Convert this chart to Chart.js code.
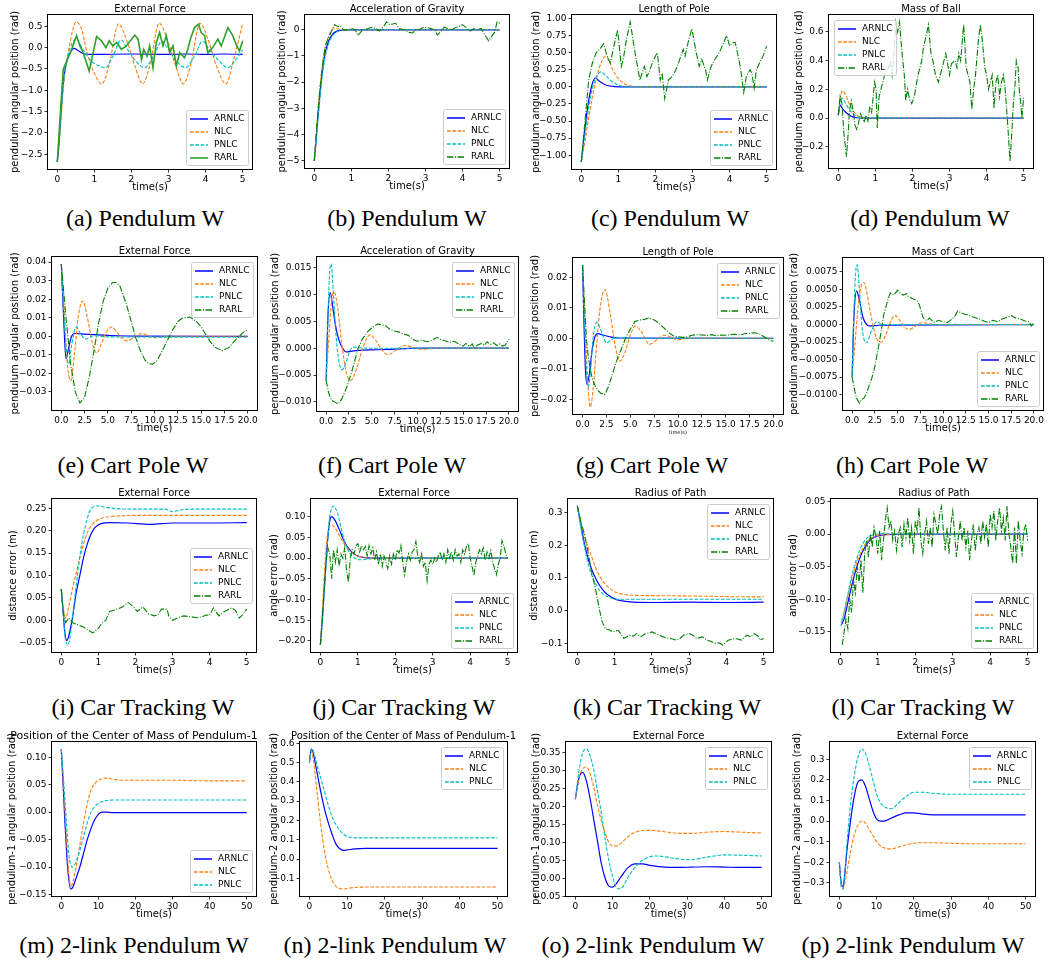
<!DOCTYPE html>
<html><head><meta charset="utf-8">
<script src="https://cdn.jsdelivr.net/npm/chart.js@4.4.1/dist/chart.umd.min.js"></script>
<style>
html,body{margin:0;padding:0;background:#fff;}
body{width:1049px;height:966px;position:relative;overflow:hidden;}
.cap{position:absolute;font-family:"Liberation Serif","DejaVu Serif",serif;font-size:24px;color:#000;white-space:nowrap;transform:translate(-50%,-50%);line-height:1;}
</style></head><body>
<script>
// ---------- tick labels ----------
const xTicks5 = [0,1,2,3,4,5];
const xTicks20 = [0,2.5,5,7.5,10,12.5,15,17.5,20];
const xTicks50 = [0,10,20,30,40,50];
const aYTicks = [-2.5,-2.0,-1.5,-1.0,-0.5,0.0,0.5];
const bYTicks = [-5,-4,-3,-2,-1,0];
const cYTicks = [-1.0,-0.75,-0.5,-0.25,0,0.25,0.5,0.75,1.0];
const dYTicks = [-0.2,0,0.2,0.4,0.6];
const eYTicks = [-0.03,-0.02,-0.01,0,0.01,0.02,0.03,0.04];
const fYTicks = [-0.01,-0.005,0,0.005,0.01,0.015];
const gYTicks = [-0.02,-0.01,0,0.01,0.02];
const hYTicks = [-0.01,-0.0075,-0.005,-0.0025,0,0.0025,0.005,0.0075];
const iYTicks = [-0.05,0,0.05,0.1,0.15,0.2,0.25];
const jYTicks = [-0.2,-0.15,-0.1,-0.05,0,0.05,0.1];
const kYTicks = [-0.1,0,0.1,0.2,0.3];
const lYTicks = [-0.15,-0.1,-0.05,0,0.05];
const mYTicks = [-0.15,-0.1,-0.05,0,0.05,0.1];
const nYTicks = [-0.1,0,0.1,0.2,0.3,0.4,0.5,0.6];
const oYTicks = [-0.05,0,0.05,0.1,0.15,0.2,0.25,0.3,0.35];
const pYTicks = [-0.3,-0.2,-0.1,0,0.1,0.2,0.3];

// ---------- (a) Pendulum: External Force ----------
const aArnlcT = [0,0.05,0.1,0.15,0.2,0.25,0.3,0.35,0.45,0.55,0.65,0.8,1.0,2.0,3.0,3.5,4.0,4.5,5.0];
const aArnlcY = [-2.68,-2.2,-1.55,-0.95,-0.55,-0.35,-0.22,-0.12,-0.02,-0.06,-0.12,-0.16,-0.16,-0.15,-0.16,-0.15,-0.16,-0.15,-0.16];
const aNlcT = [0,0.05,0.1,0.15,0.2,0.3,0.4,0.5,0.65,0.8,1.0,1.2,1.4,1.65,1.9,2.1,2.3,2.5,2.75,3.0,3.2,3.4,3.6,3.85,4.1,4.3,4.55,4.75,5.0];
const aNlcY = [-2.68,-2.3,-1.7,-1.1,-0.65,-0.1,0.35,0.6,0.45,-0.1,-0.6,-0.85,-0.4,0.55,0.1,-0.45,-0.85,-0.4,0.57,0.1,-0.45,-0.85,-0.4,0.57,0.1,-0.45,-0.85,-0.3,0.57];
const aPnlcT = [0,0.05,0.1,0.15,0.2,0.3,0.4,0.5,0.7,0.9,1.1,1.3,1.5,1.72,1.9,2.1,2.35,2.6,2.82,3.0,3.2,3.45,3.7,3.92,4.1,4.35,4.6,4.8,5.0];
const aPnlcY = [-2.68,-2.25,-1.6,-1.0,-0.6,-0.15,0.1,0.2,-0.05,-0.3,-0.42,-0.47,-0.2,0.18,-0.05,-0.3,-0.47,-0.2,0.15,-0.05,-0.3,-0.47,-0.2,0.15,-0.05,-0.3,-0.47,-0.3,-0.05];
const aRarlT = [0,0.16,0.25,0.39,0.52,0.61,0.7,0.86,1.06,1.19,1.31,1.4,1.5,1.6,1.73,1.86,1.97,2.09,2.18,2.27,2.33,2.42,2.49,2.58,2.67,2.76,2.85,2.94,3.03,3.12,3.21,3.3,3.43,3.52,3.59,3.7,3.81,3.88,3.97,4.06,4.19,4.33,4.42,4.6,4.73,4.82,4.91,5.0];
const aRarlY = [-2.68,-0.51,-0.32,-0.04,0.28,0.04,-0.12,-0.55,0.26,0.16,0.0,0.16,0.04,0.12,-0.04,0.04,0.16,0.29,0.2,-0.28,-0.04,-0.2,0.04,-0.47,0.12,0.35,0.04,0.28,-0.12,0.04,-0.43,-0.12,-0.24,-0.04,0.2,0.47,0.55,0.35,0.28,-0.12,0.0,0.2,0.04,0.47,0.28,0.08,-0.08,0.16];

// ---------- (b) Pendulum: Acceleration of Gravity ----------
const bT = [0,0.05,0.1,0.15,0.2,0.25,0.3,0.4,0.5,0.6,0.7,0.8,1.0,5.0];
const bArnlcY = [-5.02,-4.2,-3.3,-2.5,-1.8,-1.25,-0.85,-0.38,-0.16,-0.06,-0.02,0,0,0];
const bNlcY = [-5.02,-4.1,-3.1,-2.3,-1.6,-1.05,-0.65,-0.2,0.02,0.05,0.02,0,0,0];
const bPnlcY = [-5.02,-4.3,-3.45,-2.65,-1.95,-1.4,-1.0,-0.48,-0.22,-0.09,-0.03,-0.01,0,0];
const bRarlT = [0,0.05,0.1,0.15,0.2,0.25,0.3,0.4,0.5,0.55,0.6,0.65,0.7,0.8,0.9,1.0,1.1,1.18,1.3,1.45,1.58,1.7,1.76,1.88,1.95,2.03,2.12,2.19,2.3,2.42,2.55,2.65,2.75,2.83,2.95,3.05,3.15,3.25,3.32,3.42,3.5,3.6,3.7,3.8,3.9,3.99,4.08,4.2,4.3,4.4,4.5,4.6,4.7,4.78,4.86,4.93,5.0];
const bRarlY = [-5.02,-4.0,-3.1,-2.3,-1.6,-1.05,-0.6,-0.25,0.05,0.2,0.15,0.12,0.15,-0.02,0.0,0.05,0.0,-0.22,0.0,0.05,0.1,0.0,-0.05,0.15,0.3,0.2,0.22,0.25,0.05,0.0,-0.1,-0.12,0.02,0.0,0.1,0.08,0.05,0.0,-0.2,-0.05,0.1,0.05,0.0,0.08,0.12,0.2,0.1,-0.05,0.05,0.0,0.05,-0.2,-0.42,-0.25,-0.1,0.3,0.25];

// ---------- (c) Pendulum: Length of Pole ----------
const cArnlcT = [0,0.1,0.2,0.3,0.38,0.45,0.55,0.7,0.9,1.2,5];
const cArnlcY = [-1.1,-0.6,-0.2,0.05,0.13,0.1,0.06,0.02,0.005,0,0];
const cNlcT = [0,0.1,0.2,0.3,0.4,0.5,0.65,0.75,0.85,1.0,1.15,1.3,1.5,5];
const cNlcY = [-1.1,-0.8,-0.45,-0.15,0.1,0.3,0.45,0.38,0.25,0.12,0.05,0.015,0,0];
const cPnlcT = [0,0.1,0.2,0.3,0.4,0.53,0.65,0.8,0.95,1.1,1.3,5];
const cPnlcY = [-1.1,-0.7,-0.3,-0.02,0.14,0.22,0.17,0.09,0.04,0.01,0,0];
const cRarlT = [0,0.1,0.2,0.3,0.4,0.5,0.6,0.7,0.78,0.88,0.98,1.08,1.13,1.22,1.32,1.45,1.58,1.7,1.77,1.85,1.95,2.05,2.13,2.18,2.25,2.35,2.45,2.55,2.62,2.75,2.8,2.9,2.98,3.1,3.18,3.25,3.35,3.4,3.5,3.6,3.72,3.8,3.92,4.0,4.1,4.15,4.25,4.3,4.38,4.45,4.55,4.6,4.66,4.72,4.85,4.9,5.0];
const cRarlY = [-1.1,-0.5,0.1,0.35,0.5,0.55,0.63,0.45,0.35,0.6,0.83,0.3,0.4,0.7,0.95,0.5,0.1,0.3,0.15,0.25,0.4,0.5,0.1,0.2,-0.17,0.1,0.15,0.25,0.35,0.55,0.45,0.7,0.85,0.5,0.3,0.4,0.25,0.1,0.3,0.4,0.5,0.6,0.75,0.6,0.65,0.65,0.4,0.25,-0.08,0.15,0.25,0.2,-0.02,0.25,0.4,0.45,0.6];

// ---------- (d) Pendulum: Mass of Ball ----------
const dArnlcT = [0,0.05,0.1,0.2,0.3,0.4,0.5,0.7,5];
const dArnlcY = [0.02,0.09,0.07,0.04,0.02,0.008,0.002,0,0];
const dNlcT = [0,0.05,0.12,0.2,0.3,0.4,0.5,0.6,0.8,5];
const dNlcY = [0.02,0.14,0.19,0.16,0.1,0.05,0.02,0.005,0,0];
const dPnlcT = [0,0.05,0.1,0.2,0.3,0.4,0.5,0.6,5];
const dPnlcY = [0.02,0.12,0.14,0.1,0.06,0.03,0.01,0.002,0];
const dRarlT = [0,0.05,0.1,0.15,0.22,0.27,0.3,0.35,0.4,0.45,0.5,0.55,0.6,0.7,0.75,0.8,0.85,0.9,0.98,1.02,1.05,1.1,1.15,1.25,1.35,1.4,1.45,1.5,1.55,1.6,1.65,1.72,1.78,1.82,1.87,1.92,1.98,2.05,2.15,2.25,2.3,2.35,2.43,2.5,2.55,2.62,2.7,2.75,2.8,2.9,3.0,3.05,3.15,3.2,3.25,3.3,3.38,3.45,3.5,3.55,3.6,3.65,3.7,3.78,3.83,3.88,3.95,4.0,4.05,4.1,4.15,4.2,4.25,4.3,4.35,4.4,4.45,4.5,4.57,4.63,4.68,4.72,4.77,4.8,4.85,4.88,4.92,4.95,5.0];
const dRarlY = [0.02,0.15,0.1,-0.1,-0.27,-0.1,0.05,0.12,0.05,-0.05,-0.08,-0.03,0.03,-0.03,0.02,-0.02,0.08,0.04,0.25,0.2,-0.07,0.15,0.2,0.3,0.35,0.4,0.3,0.45,0.67,0.6,0.67,0.45,0.3,0.12,0.2,0.13,0.1,0.15,0.3,0.4,0.5,0.55,0.65,0.45,0.4,0.3,0.25,0.3,0.35,0.45,0.3,0.38,0.4,0.35,0.45,0.4,0.65,0.35,0.3,0.25,0.06,0.2,0.3,0.55,0.65,0.55,0.35,0.3,0.2,0.25,0.3,0.07,0.25,0.3,0.15,0.25,0.3,0.2,-0.05,-0.3,-0.1,0.1,0.25,0.4,0.35,0.2,0.1,0.0,0.15];

// ---------- (e) Cart Pole: External Force ----------
const eArnlcT = [0,0.25,0.5,0.8,1.1,1.5,2.5,4,6,8,20];
const eArnlcY = [0.039,0.01,-0.012,-0.006,0.0,0.0015,0.0012,0.0008,0.0003,0.0001,0];
const eNlcT = [0,0.3,0.6,1.0,1.4,1.8,2.3,2.8,3.3,3.8,4.3,4.8,5.4,6.0,6.5,7.0,7.8,8.6,9.3,10,11,12,20];
const eNlcY = [0.039,0.015,-0.012,-0.024,-0.01,0.01,0.019,0.01,-0.003,-0.009,-0.004,0.002,0.005,0.002,-0.001,-0.0025,-0.0005,0.0015,0.0005,-0.0008,-0.0003,0,0];
const ePnlcT = [0,0.3,0.55,0.8,1.1,1.6,2.1,2.6,3.0,3.5,5,20];
const ePnlcY = [0.039,0.01,-0.008,-0.015,-0.005,0.005,0.001,-0.0015,-0.0008,0.0003,-0.0003,-0.0005];
const eRarlT = [0,0.5,1.0,1.5,2.0,2.5,3.0,3.5,4.0,4.5,5.0,5.5,5.9,6.3,7.0,7.5,8.0,8.5,9.0,9.4,9.8,10.3,11,11.5,12,12.5,13,13.8,14.5,15,15.5,16,16.5,17.3,18,18.5,19,19.5,20];
const eRarlY = [0.039,0.01,-0.015,-0.03,-0.036,-0.033,-0.022,-0.008,0.007,0.019,0.026,0.029,0.029,0.027,0.017,0.008,-0.001,-0.008,-0.013,-0.0148,-0.015,-0.013,-0.006,-0.001,0.004,0.008,0.0098,0.0104,0.008,0.005,0.001,-0.003,-0.006,-0.0078,-0.006,-0.003,-0.0005,0.002,0.0035];

// ---------- (f) Cart Pole: Acceleration of Gravity ----------
const fArnlcT = [0,0.2,0.45,0.7,1.0,1.4,1.8,2.2,3,5,7,10,20];
const fArnlcY = [-0.006,0.006,0.0103,0.008,0.0045,0.0015,0.0,-0.0007,-0.0005,-0.0003,-0.0002,0,0];
const fNlcT = [0,0.3,0.6,0.9,1.3,1.7,2.2,2.7,3.3,4.0,4.8,5.5,6.2,6.8,7.6,8.6,9.5,10.5,12,20];
const fNlcY = [-0.006,0.002,0.009,0.0105,0.007,0.001,-0.0045,-0.006,-0.004,0.0,0.0025,0.0013,-0.0005,-0.0012,-0.0004,0.0005,0.0002,-0.0002,0,0];
const fPnlcT = [0,0.2,0.4,0.55,0.8,1.1,1.4,1.75,2.2,2.6,3.0,3.6,5,20];
const fPnlcY = [-0.006,0.006,0.0145,0.0157,0.01,0.002,-0.0025,-0.004,-0.0025,-0.0005,0.0002,0.0001,0,0];
const fRarlT = [0,0.3,0.6,1.0,1.3,1.7,2.2,2.7,3.1,3.5,4.0,4.5,5.0,5.6,6.0,6.5,7.0,7.5,8.0,8.5,9.0,9.5,10,10.5,11,11.5,12,12.2,12.6,13,13.5,14,14.5,15,15.3,15.7,16,16.2,16.6,17,17.3,17.6,18,18.3,18.7,19,19.3,19.6,20];
const fRarlY = [-0.006,-0.0085,-0.0097,-0.0101,-0.0104,-0.0095,-0.0075,-0.005,-0.0025,0.0,0.0018,0.003,0.0038,0.0045,0.0044,0.0042,0.0035,0.0032,0.003,0.0026,0.0024,0.0016,0.0013,0.0015,0.0012,0.0014,0.0019,0.002,0.0016,0.0014,0.0011,0.0013,0.0008,0.0004,0.0009,0.0003,0.0008,0.0,0.0006,0.0009,0.0005,0.0012,0.0007,0.001,0.0005,0.0008,0.0004,0.0006,0.0017];

// ---------- (g) Cart Pole: Length of Pole ----------
const gArnlcT = [0,0.15,0.3,0.45,0.7,1.0,1.3,1.6,2.2,3,4,20];
const gArnlcY = [0.024,0.005,-0.01,-0.015,-0.012,-0.004,0.0005,0.0015,0.001,0.0004,0.0001,0];
const gNlcT = [0,0.2,0.4,0.6,0.8,1.1,1.4,1.8,2.35,2.9,3.4,3.9,4.4,5.0,5.5,6.2,7.0,7.8,8.6,9.3,10,11,20];
const gNlcY = [0.024,0.01,-0.005,-0.017,-0.0225,-0.017,-0.005,0.009,0.016,0.008,-0.002,-0.0075,-0.005,0.001,0.004,0.002,-0.002,-0.0005,0.001,0.0003,-0.0005,0,0];
const gPnlcT = [0,0.2,0.4,0.6,0.85,1.1,1.5,2.0,2.5,3.0,3.5,5,20];
const gPnlcY = [0.024,0.005,-0.01,-0.016,-0.01,0.0,0.0053,0.002,-0.0015,-0.0005,0.0003,0,0];
const gRarlT = [0,0.2,0.4,0.6,0.8,1.0,1.3,1.6,1.9,2.3,2.7,3.1,3.5,4.0,4.5,5.0,5.5,6.0,6.5,7.0,7.5,8.0,8.5,8.8,9.2,9.5,10,10.5,11,11.5,12,12.5,13,13.5,14,14.5,15,15.5,16,16.5,17,17.5,18,18.5,19,19.5,20];
const gRarlY = [0.024,0.012,0.0,-0.006,-0.01,-0.013,-0.0155,-0.017,-0.018,-0.0185,-0.016,-0.012,-0.008,-0.004,0.0,0.003,0.0055,0.006,0.0062,0.0067,0.006,0.005,0.0035,0.0025,0.0015,0.0008,0.0005,0.0003,0.0005,0.001,0.0012,0.0011,0.0009,0.0012,0.0008,0.0011,0.001,0.0012,0.0013,0.0011,0.0015,0.0016,0.0018,0.0015,0.0005,-0.0005,-0.001];

// ---------- (h) Cart Pole: Mass of Cart ----------
const hArnlcT = [0,0.2,0.5,0.8,1.2,1.6,2.0,3,20];
const hArnlcY = [-0.0075,0.001,0.0048,0.0035,0.001,0.0,-0.0002,-0.0001,0];
const hNlcT = [0,0.3,0.7,1.0,1.3,1.7,2.2,2.7,3.2,3.7,4.2,4.7,5.3,5.8,6.3,7.0,7.8,8.5,10,20];
const hNlcY = [-0.0075,-0.003,0.003,0.0055,0.006,0.004,0.0005,-0.002,-0.0025,-0.0015,0.0003,0.0013,0.0005,-0.0004,-0.0007,-0.0002,0.0003,0.0001,0,0];
const hPnlcT = [0,0.2,0.4,0.55,0.8,1.1,1.6,2.1,2.7,3.3,5,20];
const hPnlcY = [-0.0075,0.002,0.0075,0.0085,0.005,-0.0005,-0.0026,-0.001,0.0004,0.0,0,0];
const hRarlT = [0,0.3,0.5,0.8,1.1,1.3,1.6,1.8,2.2,2.5,3.0,3.5,4.0,4.2,4.6,5.0,5.3,5.6,6.0,6.2,6.6,7.0,7.2,7.4,7.8,8.2,8.5,9.0,9.5,10,10.5,11,11.3,11.6,12,12.3,12.7,13,13.5,14,14.5,15,15.5,16,16.5,17,17.5,18,18.5,19,19.5,19.7,20];
const hRarlY = [-0.0075,-0.0095,-0.0105,-0.0112,-0.0106,-0.0105,-0.0098,-0.009,-0.0075,-0.006,-0.0025,0.0015,0.0038,0.0045,0.0042,0.0049,0.0045,0.0042,0.0044,0.004,0.0037,0.0035,0.0033,0.0028,0.001,0.0006,0.0009,0.0003,0.0006,0.0004,0.0003,0.0008,0.0012,0.0019,0.0017,0.0015,0.0014,0.0012,0.001,0.0008,0.0005,0.0003,0.0006,0.0004,0.0008,0.001,0.0013,0.0009,0.0008,0.0005,0.0004,-0.0002,0.0002];

// ---------- (i) Car Tracking: External Force (distance) ----------
const iArnlcT = [0,0.05,0.1,0.15,0.2,0.3,0.4,0.5,0.6,0.7,0.85,1.0,1.3,1.8,2.4,3.0,4.0,5.0];
const iArnlcY = [0.07,0.02,-0.03,-0.045,-0.035,0.005,0.06,0.1,0.14,0.17,0.2,0.213,0.218,0.217,0.214,0.217,0.217,0.218];
const iNlcT = [0,0.05,0.12,0.2,0.3,0.4,0.5,0.6,0.7,0.8,1.0,1.3,1.6,2.0,3.0,5.0];
const iNlcY = [0.07,0.03,0.005,0.03,0.07,0.105,0.14,0.17,0.195,0.21,0.225,0.231,0.233,0.234,0.234,0.234];
const iPnlcT = [0,0.05,0.1,0.18,0.25,0.35,0.45,0.55,0.65,0.75,0.85,1.0,1.2,1.5,2.0,2.8,3.0,3.2,3.5,5.0];
const iPnlcY = [0.07,0.02,-0.035,-0.055,-0.03,0.04,0.11,0.17,0.21,0.24,0.252,0.255,0.252,0.249,0.248,0.248,0.242,0.246,0.248,0.248];
const iRarlT = [0,0.05,0.12,0.2,0.3,0.45,0.6,0.7,0.85,1.0,1.1,1.2,1.3,1.4,1.5,1.65,1.8,1.95,2.05,2.2,2.35,2.5,2.6,2.7,2.85,2.9,3.0,3.15,3.3,3.5,3.65,3.8,3.9,4.0,4.1,4.25,4.4,4.6,4.7,4.8,4.9,5.0];
const iRarlY = [0.07,0.02,-0.005,0.005,-0.005,-0.01,-0.015,-0.02,-0.028,-0.018,-0.005,0.0,0.02,0.022,0.025,0.03,0.04,0.03,0.02,0.03,0.015,0.01,0.012,0.025,0.025,0.01,0.0,0.006,0.01,0.008,0.006,0.008,0.012,0.011,0.028,0.01,0.02,0.028,0.022,0.005,0.014,0.025];

// ---------- (j) Car Tracking: External Force (angle) ----------
const jT = [0,0.05,0.1,0.15,0.2,0.25,0.3,0.4,0.5,0.6,0.7,0.85,1.0,1.2,1.5,5];
const jArnlcY = [-0.21,-0.15,-0.08,-0.01,0.05,0.09,0.1,0.09,0.07,0.048,0.03,0.014,0.005,0.001,0,0];
const jNlcY = [-0.21,-0.13,-0.05,0.02,0.06,0.078,0.08,0.072,0.055,0.04,0.027,0.013,0.005,0.001,0,0];
const jPnlcT = [0,0.05,0.1,0.15,0.2,0.25,0.35,0.45,0.55,0.65,0.75,0.85,0.95,1.1,1.3,1.6,5];
const jPnlcY = [-0.21,-0.16,-0.09,-0.02,0.05,0.1,0.126,0.11,0.075,0.04,0.018,0.005,-0.002,-0.004,-0.002,0,0];
const jRarlT = [0,0.05,0.1,0.15,0.2,0.25,0.3,0.35,0.4,0.45,0.5,0.55,0.6,0.65,0.7,0.75,0.8,0.85,0.9,0.95,1.0,1.05,1.1,1.15,1.2,1.25,1.3,1.35,1.4,1.45,1.5,1.55,1.6,1.65,1.7,1.75,1.8,1.85,1.9,1.95,2.0,2.05,2.1,2.15,2.2,2.25,2.3,2.35,2.4,2.45,2.5,2.55,2.6,2.65,2.7,2.75,2.8,2.85,2.9,2.95,3.0,3.05,3.1,3.15,3.2,3.25,3.3,3.35,3.4,3.45,3.5,3.55,3.6,3.65,3.7,3.75,3.8,3.85,3.9,3.95,4.0,4.05,4.1,4.15,4.2,4.25,4.3,4.35,4.4,4.45,4.5,4.55,4.6,4.65,4.7,4.75,4.8,4.85,4.9,4.95,5.0];
const jRarlY = [-0.21,-0.15,-0.08,-0.01,0.025,0.01,-0.05,0.02,-0.01,0.02,
 -0.02,0.01,0.0,0.025,-0.03,-0.058,0.0,0.02,0.01,0.03,
 0.035,0.015,0.03,0.02,0.028,0.005,0.03,0.01,0.025,-0.005,
 0.015,-0.015,0.01,-0.02,0.005,-0.01,-0.025,0.005,-0.015,0.01,
 -0.005,0.02,0.012,0.03,-0.01,-0.04,-0.01,0.01,-0.005,0.015,
 0.02,0.04,0.005,-0.01,0.01,-0.02,-0.01,-0.055,-0.015,-0.005,
 -0.015,0.0,-0.01,0.005,0.015,-0.005,0.01,-0.01,0.02,0.0,
 0.015,-0.005,0.02,0.005,0.01,-0.01,0.02,0.01,0.028,0.035,
 0.0,-0.02,-0.042,-0.01,0.005,0.02,0.01,0.025,-0.005,0.015,
 0.0,0.018,-0.01,-0.025,-0.04,-0.015,0.0,0.042,0.03,0.01,
 0.0];

// ---------- (k) Car Tracking: Radius of Path (distance) ----------
const kT = [0,0.1,0.2,0.3,0.4,0.5,0.6,0.7,0.8,1.0,1.2,1.5,2,3,4,5];
const kArnlcY = [0.32,0.26,0.2,0.155,0.122,0.097,0.077,0.061,0.05,0.036,0.03,0.026,0.025,0.026,0.025,0.026];
const kNlcY = [0.32,0.27,0.225,0.19,0.16,0.128,0.105,0.088,0.075,0.058,0.051,0.047,0.046,0.045,0.043,0.042];
const kPnlcY = [0.32,0.25,0.19,0.14,0.105,0.08,0.062,0.05,0.043,0.036,0.035,0.035,0.035,0.035,0.035,0.035];
const kRarlT = [0,0.1,0.2,0.3,0.4,0.5,0.6,0.67,0.75,0.85,0.95,1.0,1.1,1.25,1.4,1.5,1.6,1.7,1.8,1.9,2.0,2.1,2.2,2.35,2.5,2.65,2.75,2.85,3.0,3.1,3.2,3.35,3.5,3.6,3.7,3.8,3.9,4.05,4.15,4.25,4.4,4.55,4.65,4.75,4.85,4.9,5.0];
const kRarlY = [0.32,0.27,0.23,0.17,0.11,0.06,0.0,-0.035,-0.055,-0.058,-0.065,-0.063,-0.06,-0.085,-0.075,-0.078,-0.07,-0.08,-0.072,-0.068,-0.065,-0.07,-0.075,-0.082,-0.085,-0.09,-0.085,-0.075,-0.07,-0.075,-0.085,-0.08,-0.09,-0.095,-0.1,-0.098,-0.105,-0.09,-0.087,-0.085,-0.09,-0.075,-0.08,-0.07,-0.078,-0.09,-0.085];

// ---------- (l) Car Tracking: Radius of Path (angle) ----------
const lT = [0.02,0.1,0.2,0.3,0.4,0.5,0.6,0.7,0.8,0.9,1.0,1.2,1.5,2,5];
const lArnlcY = [-0.14,-0.13,-0.105,-0.08,-0.058,-0.04,-0.026,-0.016,-0.009,-0.005,-0.003,-0.001,-0.0005,0,0];
const lNlcY = [-0.135,-0.12,-0.095,-0.07,-0.05,-0.034,-0.022,-0.013,-0.007,-0.004,-0.002,-0.001,0,0,0];
const lPnlcY = [-0.14,-0.12,-0.092,-0.065,-0.044,-0.027,-0.015,-0.007,-0.003,-0.001,0.0,0.001,0,0,0];
const lRarlT = [0.05,0.1,0.15,0.2,0.25,0.3,0.35,0.4,0.45,0.5,0.55,0.6,0.65,0.7,0.75,0.8,0.85,0.9,0.95,1.0,1.05,1.1,1.15,1.2,1.25,1.3,1.35,1.4,1.45,1.5,1.55,1.6,1.65,1.7,1.75,1.8,1.85,1.9,1.95,2.0,2.05,2.1,2.15,2.2,2.25,2.3,2.35,2.4,2.45,2.5,2.55,2.6,2.65,2.7,2.75,2.8,2.85,2.9,2.95,3.0,3.05,3.1,3.15,3.2,3.25,3.3,3.35,3.4,3.45,3.5,3.55,3.6,3.65,3.7,3.75,3.8,3.85,3.9,3.95,4.0,4.05,4.1,4.15,4.2,4.25,4.3,4.35,4.4,4.45,4.5,4.55,4.6,4.65,4.7,4.75,4.8,4.85,4.9,4.95,5.0];
const lRarlY = [-0.17,-0.15,-0.13,-0.145,-0.1,-0.12,-0.07,-0.09,-0.05,-0.075,
 -0.04,-0.09,-0.03,-0.01,-0.035,0.0,-0.02,0.01,-0.005,-0.03,
 0.005,-0.04,-0.01,0.02,0.04,0.01,0.02,-0.01,0.005,-0.025,
 0.0,0.01,-0.02,0.015,-0.005,0.025,-0.01,0.01,-0.03,0.02,
 0.005,0.04,-0.01,-0.03,0.0,0.02,-0.015,0.01,-0.02,0.03,
 0.015,0.0,0.03,0.042,0.005,-0.025,0.01,-0.03,0.015,0.035,
 0.0,-0.035,-0.005,0.02,-0.01,0.01,-0.02,0.005,-0.04,-0.01,
 0.015,-0.025,0.0,0.01,-0.015,0.02,-0.005,0.015,-0.02,0.03,
 0.01,0.035,-0.01,0.02,0.04,0.005,0.025,-0.01,0.043,0.0,
 -0.02,-0.045,0.01,-0.045,0.02,-0.01,-0.03,0.005,0.015,-0.01];

// ---------- (m) 2-link: Centre of Mass, pendulum-1 ----------
const mT = [0,0.5,1,1.5,2,2.5,3,4,5,6,7,8,9,10,11,12,14,16,20,30,40,50];
const mArnlcY = [0.115,0.05,-0.02,-0.08,-0.12,-0.14,-0.138,-0.12,-0.1,-0.075,-0.05,-0.03,-0.014,-0.004,0.0,0.0,-0.001,-0.001,-0.001,-0.001,-0.001,-0.001];
const mNlcY = [0.115,0.06,0.0,-0.06,-0.11,-0.135,-0.13,-0.1,-0.06,-0.02,0.015,0.04,0.052,0.058,0.061,0.062,0.06,0.058,0.058,0.058,0.057,0.057];
const mPnlcY = [0.115,0.07,0.02,-0.03,-0.075,-0.095,-0.1,-0.09,-0.07,-0.045,-0.02,0.0,0.01,0.016,0.019,0.021,0.022,0.022,0.022,0.022,0.022,0.022];

// ---------- (n) 2-link: Centre of Mass, pendulum-2 ----------
const nT = [0,0.5,1,2,3,4,5,6,7,8,9,10,12,15,20,30,40,50];
const nArnlcY = [0.5,0.57,0.55,0.45,0.35,0.26,0.19,0.13,0.08,0.055,0.045,0.047,0.053,0.055,0.055,0.055,0.055,0.055];
const nNlcY = [0.5,0.56,0.52,0.35,0.18,0.04,-0.05,-0.11,-0.14,-0.152,-0.155,-0.152,-0.147,-0.145,-0.145,-0.145,-0.145,-0.145];
const nPnlcY = [0.5,0.57,0.56,0.49,0.42,0.35,0.28,0.22,0.18,0.15,0.13,0.118,0.11,0.11,0.11,0.11,0.11,0.11];

// ---------- (o) 2-link: External Force, pendulum-1 ----------
const oT = [0,1,2,3,4,5,6,7,8,9,10,11,12,13,14,16,18,20,22,25,28,31,35,40,45,50];
const oArnlcY = [0.22,0.28,0.295,0.27,0.22,0.16,0.1,0.04,0.0,-0.022,-0.025,-0.015,0.0,0.015,0.028,0.04,0.04,0.036,0.033,0.03,0.03,0.031,0.032,0.031,0.03,0.03];
const oNlcY = [0.22,0.28,0.305,0.31,0.29,0.25,0.2,0.16,0.125,0.1,0.09,0.09,0.095,0.105,0.115,0.128,0.133,0.134,0.132,0.128,0.125,0.125,0.128,0.13,0.128,0.126];
const oPnlcY = [0.22,0.3,0.35,0.36,0.34,0.3,0.24,0.18,0.11,0.05,0.005,-0.025,-0.03,-0.02,0.0,0.03,0.05,0.06,0.062,0.058,0.053,0.052,0.058,0.065,0.064,0.062];

// ---------- (p) 2-link: External Force, pendulum-2 ----------
const pT = [0,0.5,1,1.5,2,3,4,5,6,7,8,9,10,11,12,14,16,18,20,22,25,30,35,40,45,50];
const pArnlcY = [-0.2,-0.3,-0.32,-0.25,-0.15,0.0,0.12,0.19,0.2,0.17,0.11,0.05,0.01,0.0,0.0,0.015,0.03,0.04,0.04,0.035,0.03,0.03,0.03,0.03,0.03,0.03];
const pNlcY = [-0.2,-0.3,-0.33,-0.3,-0.25,-0.15,-0.07,-0.02,0.0,-0.01,-0.04,-0.07,-0.1,-0.12,-0.13,-0.135,-0.125,-0.115,-0.108,-0.105,-0.105,-0.108,-0.11,-0.11,-0.11,-0.11];
const pPnlcY = [-0.2,-0.32,-0.33,-0.25,-0.12,0.08,0.22,0.31,0.35,0.33,0.27,0.2,0.13,0.09,0.07,0.06,0.09,0.12,0.14,0.14,0.135,0.13,0.13,0.13,0.13,0.13];

// ================== rendering ==================
const FONT = '"DejaVu Sans", "Liberation Sans", sans-serif';
const STY = {
  A:{borderColor:'#0000ff', borderWidth:1.2, borderDash:[], cubicInterpolationMode:'monotone'},
  N:{borderColor:'#ff7f0e', borderWidth:1.1, borderDash:[3.7,1.6], cubicInterpolationMode:'monotone'},
  P:{borderColor:'#00bfbf', borderWidth:1.1, borderDash:[3.7,1.6], cubicInterpolationMode:'monotone'},
  R:{borderColor:'#008000', borderWidth:1.1, borderDash:[6.4,1.6,1,1.6], tension:0},
  Rs:{borderColor:'#2ca02c', borderWidth:1.6, borderDash:[], tension:0}
};
const fmt = (v,d) => { let s = Number(v).toFixed(d); if (/^-0(\.0+)?$/.test(s)) s = s.slice(1); return s.replace('-', '\u2212'); };

const decor = {
  id:'decor',
  afterDraw(chart, args, o) {
    const {ctx, chartArea:a} = chart;
    ctx.save();
    ctx.strokeStyle = '#000'; ctx.lineWidth = 1; ctx.setLineDash([]);
    ctx.strokeRect(a.left - 0.5, a.top - 0.5, a.right - a.left + 1, a.bottom - a.top + 1);
    ctx.fillStyle = '#000'; ctx.font = o.tsize + 'px ' + FONT; ctx.textAlign = 'center'; ctx.textBaseline = 'alphabetic';
    ctx.fillText(o.title, (a.left + a.right) / 2 + (o.tdx || 0), a.top - 3);
    const ds = chart.data.datasets; const fs = o.lsize;
    ctx.font = fs + 'px ' + FONT;
    let tw = 0; ds.forEach(d => { tw = Math.max(tw, ctx.measureText(d.label).width); });
    const padL = 3.5, padR = 4, hl = 18, gap = 6, rh = 13, inset = 4.5;
    const w = Math.round(padL + hl + gap + tw + padR), h = Math.round(ds.length * rh + 3);
    const L = o.legend;
    const x = Math.round((L === 'ul') ? a.left + inset : a.right - inset - w) + 0.5;
    const y = Math.round((L === 'ur' || L === 'ul') ? a.top + inset : (L === 'cr' ? (a.top + a.bottom) / 2 - h / 2 : a.bottom - inset - h)) + 0.5;
    ctx.beginPath();
    if (ctx.roundRect) ctx.roundRect(x, y, w, h, 2); else ctx.rect(x, y, w, h);
    ctx.fillStyle = 'rgba(255,255,255,0.8)'; ctx.fill();
    ctx.strokeStyle = '#cccccc'; ctx.lineWidth = 1; ctx.stroke();
    ds.forEach((d, i) => {
      const cy = Math.round(y + 1.5 + rh * (i + 0.5));
      ctx.beginPath(); ctx.strokeStyle = d.borderColor; ctx.lineWidth = Math.max(1.5, d.borderWidth); ctx.setLineDash(d.borderDash || []);
      ctx.moveTo(Math.round(x + padL), cy); ctx.lineTo(Math.round(x + padL + hl), cy); ctx.stroke();
      ctx.setLineDash([]);
      ctx.fillStyle = '#000'; ctx.textAlign = 'left'; ctx.textBaseline = 'middle';
      ctx.fillText(d.label, x + padL + hl + gap, cy);
    });
    ctx.restore();
  }
};

const SP = 'pendulum angular position (rad)';
const panels = [
 {box:[48,252,15,169], col:[0,262], title:'External Force', yl:SP, ylx:15, xr:[-0.25,5.25], xt:xTicks5, xd:0, yt:aYTicks, yd:1, leg:'lr',
  s:[['ARNLC',aArnlcT,aArnlcY,'A'],['NLC',aNlcT,aNlcY,'N'],['PNLC',aPnlcT,aPnlcY,'P'],['RARL',aRarlT,aRarlY,'Rs']], cap:'(a) Pendulum W', cx:145, cy:218},
 {box:[305,509,15,168], col:[262,524], title:'Acceleration of Gravity', yl:SP, ylx:20, xr:[-0.25,5.25], xt:xTicks5, xd:0, yt:bYTicks, yd:0, leg:'lr',
  s:[['ARNLC',bT,bArnlcY,'A'],['NLC',bT,bNlcY,'N'],['PNLC',bT,bPnlcY,'P'],['RARL',bRarlT,bRarlY,'R']], cap:'(b) Pendulum W', cx:407, cy:218},
 {box:[572,776,15,169], col:[524,786], title:'Length of Pole', yl:SP, ylx:12, xr:[-0.25,5.25], xt:xTicks5, xd:0, yt:cYTicks, yd:2, leg:'lr',
  s:[['ARNLC',cArnlcT,cArnlcY,'A'],['NLC',cNlcT,cNlcY,'N'],['PNLC',cPnlcT,cPnlcY,'P'],['RARL',cRarlT,cRarlY,'R']], cap:'(c) Pendulum W', cx:670, cy:218},
 {box:[829,1033,15,168], col:[786,1049], title:'Mass of Ball', yl:SP, ylx:13, xr:[-0.25,5.25], xt:xTicks5, xd:0, yt:dYTicks, yd:1, leg:'ul',
  s:[['ARNLC',dArnlcT,dArnlcY,'A'],['NLC',dNlcT,dNlcY,'N'],['PNLC',dPnlcT,dPnlcY,'P'],['RARL',dRarlT,dRarlY,'R']], cap:'(d) Pendulum W', cx:930, cy:218},

 {box:[52,257,257,410], col:[0,262], title:'External Force', yl:SP, ylx:15, xr:[-1,21], xt:xTicks20, xd:1, yt:eYTicks, yd:2, leg:'ur',
  s:[['ARNLC',eArnlcT,eArnlcY,'A'],['NLC',eNlcT,eNlcY,'N'],['PNLC',ePnlcT,ePnlcY,'P'],['RARL',eRarlT,eRarlY,'R']], cap:'(e) Cart Pole W', cx:133, cy:465},
 {box:[317,518,257,411], col:[262,524], title:'Acceleration of Gravity', yl:SP, ylx:13, xr:[-1,21], xt:xTicks20, xd:1, yt:fYTicks, yd:3, leg:'ur',
  s:[['ARNLC',fArnlcT,fArnlcY,'A'],['NLC',fNlcT,fNlcY,'N'],['PNLC',fPnlcT,fPnlcY,'P'],['RARL',fRarlT,fRarlY,'R']], cap:'(f) Cart Pole W', cx:392, cy:465},
 {box:[573,783,258,414], col:[524,786], title:'Length of Pole', yl:SP, ylx:11, xr:[-1,21], xt:xTicks20, xd:1, yt:gYTicks, yd:2, leg:'ur', xls:5,
  s:[['ARNLC',gArnlcT,gArnlcY,'A'],['NLC',gNlcT,gNlcY,'N'],['PNLC',gPnlcT,gPnlcY,'P'],['RARL',gRarlT,gRarlY,'R']], cap:'(g) Cart Pole W', cx:652, cy:465},
 {box:[843,1043,258,410], col:[786,1049], title:'Mass of Cart', yl:SP, ylx:8, xr:[-1,21], xt:xTicks20, xd:1, yt:hYTicks, yd:4, leg:'lr',
  s:[['ARNLC',hArnlcT,hArnlcY,'A'],['NLC',hNlcT,hNlcY,'N'],['PNLC',hPnlcT,hPnlcY,'P'],['RARL',hRarlT,hRarlY,'R']], cap:'(h) Cart Pole W', cx:912, cy:465},

 {box:[52,256,499,652], col:[0,262], title:'External Force', yl:'distance error (m)', ylx:13, xr:[-0.25,5.25], xt:xTicks5, xd:0, yt:iYTicks, yd:2, leg:'cr',
  s:[['ARNLC',iArnlcT,iArnlcY,'A'],['NLC',iNlcT,iNlcY,'N'],['PNLC',iPnlcT,iPnlcY,'P'],['RARL',iRarlT,iRarlY,'R']], cap:'(i) Car Tracking W', cx:143, cy:707},
 {box:[311,517,499,652], col:[262,524], title:'External Force', yl:'angle error (rad)', ylx:12, xr:[-0.25,5.25], xt:xTicks5, xd:0, yt:jYTicks, yd:2, leg:'lr',
  s:[['ARNLC',jT,jArnlcY,'A'],['NLC',jT,jNlcY,'N'],['PNLC',jPnlcT,jPnlcY,'P'],['RARL',jRarlT,jRarlY,'R']], cap:'(j) Car Tracking W', cx:404, cy:707},
 {box:[568,773,499,652], col:[524,786], title:'Radius of Path', yl:'distance error (m)', ylx:10, xr:[-0.25,5.25], xt:xTicks5, xd:0, yt:kYTicks, yd:1, leg:'ur',
  s:[['ARNLC',kT,kArnlcY,'A'],['NLC',kT,kNlcY,'N'],['PNLC',kT,kPnlcY,'P'],['RARL',kRarlT,kRarlY,'R']], cap:'(k) Car Tracking W', cx:667, cy:707},
 {box:[831,1037,499,652], col:[786,1049], title:'Radius of Path', yl:'angle error (rad)', ylx:7, xr:[-0.25,5.25], xt:xTicks5, xd:0, yt:lYTicks, yd:2, leg:'lr',
  s:[['ARNLC',lT,lArnlcY,'A'],['NLC',lT,lNlcY,'N'],['PNLC',lT,lPnlcY,'P'],['RARL',lRarlT,lRarlY,'R']], cap:'(l) Car Tracking W', cx:923, cy:707},

 {box:[52,256,742,896], col:[0,262], title:'Position of the Center of Mass of Pendulum-1', tsize:11, tdx:-20, yl:'pendulum-1 angular position (rad)', ylx:12, xr:[-2.5,52.5], xt:xTicks50, xd:0, yt:mYTicks, yd:2, leg:'lr',
  s:[['ARNLC',mT,mArnlcY,'A'],['NLC',mT,mNlcY,'N'],['PNLC',mT,mPnlcY,'P']], cap:'(m) 2-link Pendulum W', cx:134, cy:945},
 {box:[300,507,742,896], col:[262,524], title:'Position of the Center of Mass of Pendulum-1', yl:'pendulum-2 angular position (rad)', ylx:12, xr:[-2.5,52.5], xt:xTicks50, xd:0, yt:nYTicks, yd:1, leg:'ur',
  s:[['ARNLC',nT,nArnlcY,'A'],['NLC',nT,nNlcY,'N'],['PNLC',nT,nPnlcY,'P']], cap:'(n) 2-link Pendulum W', cx:395, cy:945},
 {box:[566,771,742,896], col:[524,786], title:'External Force', yl:'pendulum-1 angular position (rad)', ylx:12, xr:[-2.5,52.5], xt:xTicks50, xd:0, yt:oYTicks, yd:2, leg:'ur',
  s:[['ARNLC',oT,oArnlcY,'A'],['NLC',oT,oNlcY,'N'],['PNLC',oT,oPnlcY,'P']], cap:'(o) 2-link Pendulum W', cx:653, cy:945},
 {box:[830,1035,742,896], col:[786,1049], title:'External Force', yl:'pendulum-2 angular position (rad)', ylx:11, xr:[-2.5,52.5], xt:xTicks50, xd:0, yt:pYTicks, yd:1, leg:'ur',
  s:[['ARNLC',pT,pArnlcY,'A'],['NLC',pT,pNlcY,'N'],['PNLC',pT,pPnlcY,'P']], cap:'(p) 2-link Pendulum W', cx:913, cy:945}
];

const TICK = 9, LAB = 10;
panels.forEach(p => {
  const [L,R,T,B] = p.box, [x0,x1] = p.col;
  const top = T - 16, W = x1 - x0, H = B - T + 44;
  const cv = document.createElement('canvas');
  cv.width = W; cv.height = H;
  cv.style.cssText = 'position:absolute;left:' + x0 + 'px;top:' + top + 'px;width:' + W + 'px;height:' + H + 'px;';
  document.body.appendChild(cv);
  let lo = Infinity, hi = -Infinity;
  p.s.forEach(s => s[2].forEach(v => { lo = Math.min(lo, v); hi = Math.max(hi, v); }));
  const m = (hi - lo) * 0.05;
  const n = p.s.length;
  const datasets = p.s.map((s, i) => Object.assign({
    label: s[0], data: s[1].map((t, k) => ({x: t, y: s[2][k]})),
    pointRadius: 0, pointHoverRadius: 0, fill: false, showLine: true, order: n - i
  }, STY[s[3]]));
  const xls = p.xls || LAB;
  const gridOpt = {drawOnChartArea:false, drawTicks:true, tickLength:3.5, tickColor:'#000', tickWidth:0.8};
  new Chart(cv, {
    type: 'scatter',
    data: {datasets},
    options: {
      responsive: false, animation: false, events: [],
      layout: {padding: {left: 0, top: 16, right: x1 - R, bottom: 0}},
      scales: {
        x: {type:'linear', position:'bottom', min:p.xr[0], max:p.xr[1],
            afterBuildTicks: ax => { ax.ticks = p.xt.map(v => ({value: v})); },
            ticks: {callback: v => fmt(v, p.xd), color:'#000', font:{family:FONT, size:TICK}, padding:2, autoSkip:false, maxRotation:0, minRotation:0},
            grid: gridOpt, border: {display:false},
            title: {display:true, text:'time(s)', color:'#000', font:{family:FONT, size:xls}, padding:{top:0, bottom:28 - 18.5 - xls * 0.6}},
            afterFit: s => { s.height = 28; }},
        y: {type:'linear', position:'left', min:lo - m, max:hi + m,
            afterBuildTicks: ax => { ax.ticks = p.yt.map(v => ({value: v})); },
            ticks: {callback: v => fmt(v, p.yd), color:'#000', font:{family:FONT, size:TICK}, padding:2, autoSkip:false},
            grid: gridOpt, border: {display:false},
            title: {display:true, text:p.yl, color:'#000', font:{family:FONT, size:LAB}, padding:{top:p.ylx - LAB * 0.6, bottom:0}},
            afterFit: s => { s.width = L - x0; }}
      },
      plugins: {legend:{display:false}, tooltip:{enabled:false}, title:{display:false},
                decor:{title:p.title, tsize:p.tsize || 10, tdx:p.tdx || 0, lsize:9, legend:p.leg}}
    },
    plugins: [decor]
  });
  const c = document.createElement('div');
  c.className = 'cap'; c.textContent = p.cap;
  c.style.left = p.cx + 'px'; c.style.top = p.cy + 'px';
  document.body.appendChild(c);
});
</script>
</body></html>
